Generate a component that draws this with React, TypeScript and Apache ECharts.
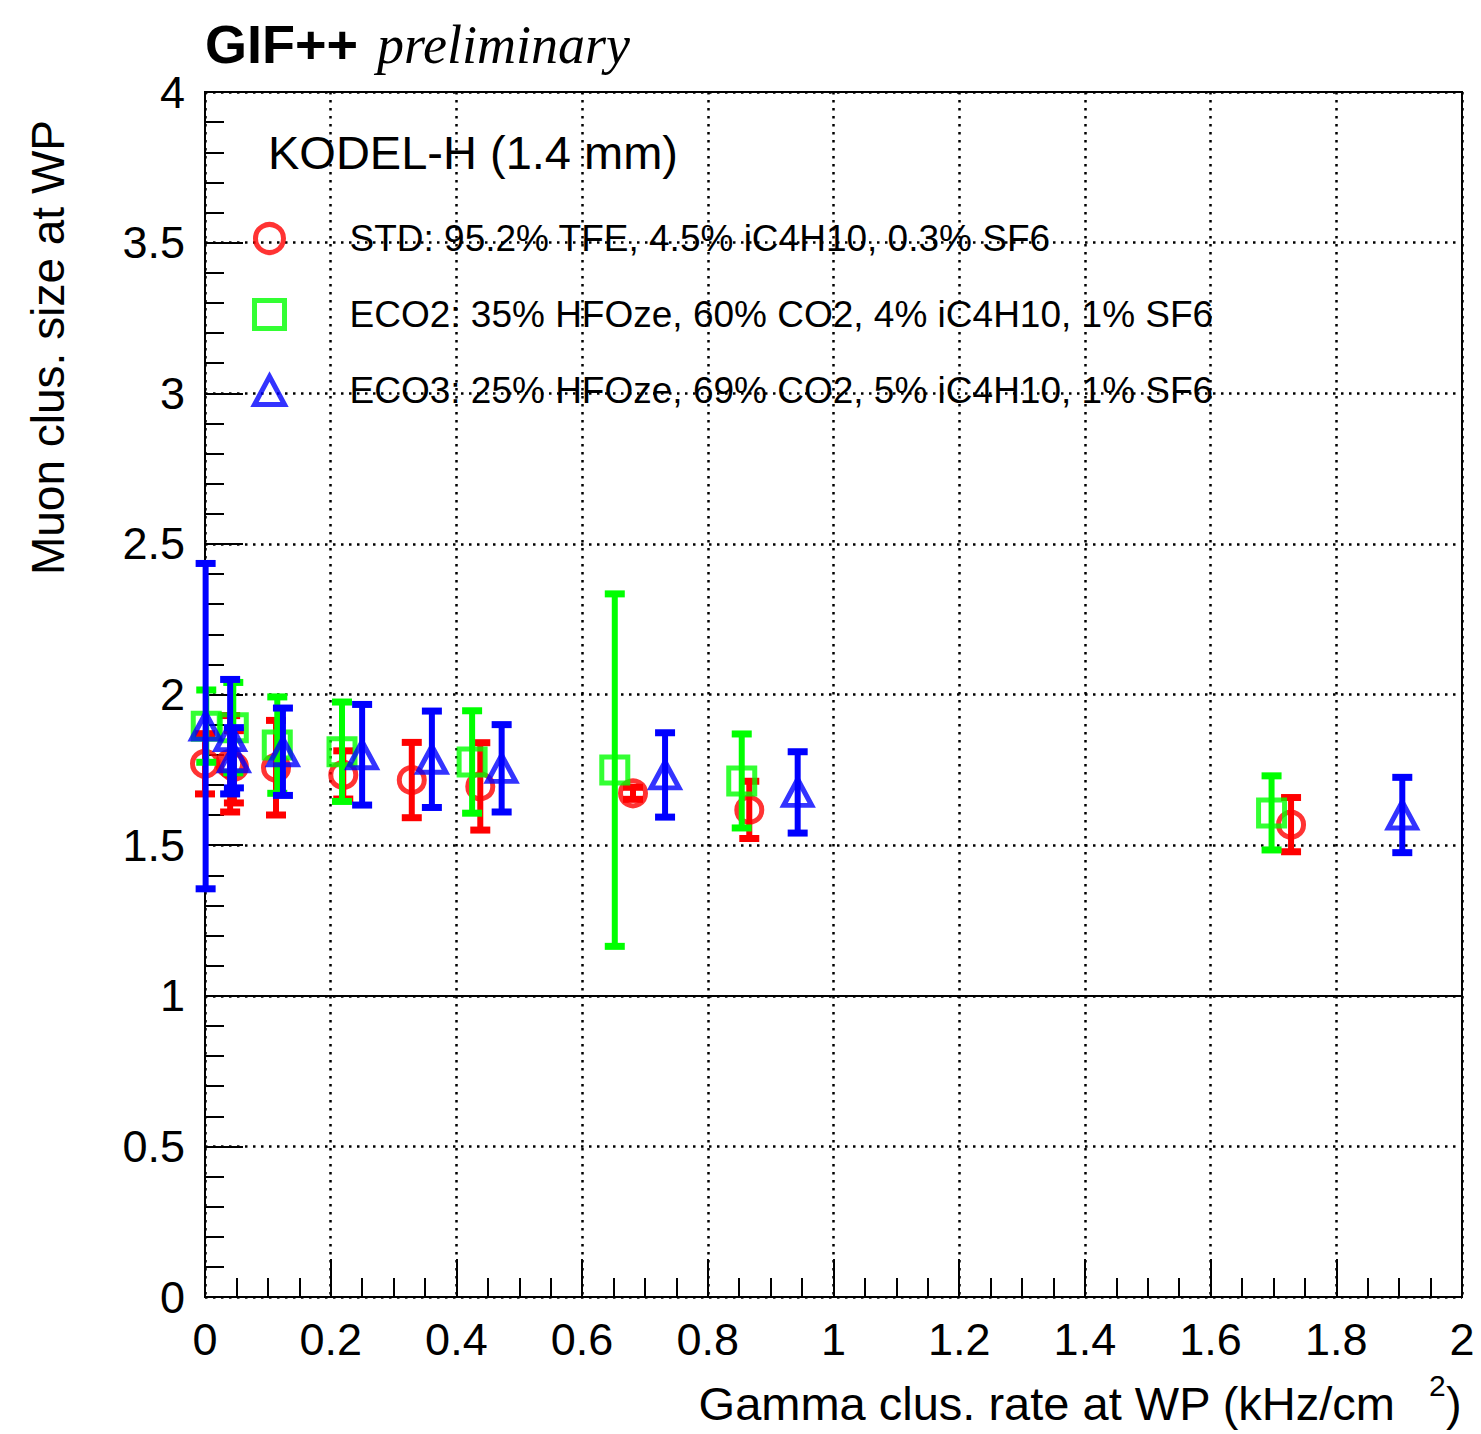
import React, { useEffect, useRef } from "react";
import * as echarts from "echarts";

const STD_LABEL = "STD: 95.2% TFE, 4.5% iC4H10, 0.3% SF6";
const ECO2_LABEL = "ECO2: 35% HFOze, 60% CO2, 4% iC4H10, 1% SF6";
const ECO3_LABEL = "ECO3: 25% HFOze, 69% CO2, 5% iC4H10, 1% SF6";

// STD (red circles)
const stdX = [0.0, 0.040, 0.046, 0.113, 0.220, 0.329, 0.438, 0.681, 0.866, 1.728];
const stdY = [1.77, 1.77, 1.76, 1.757, 1.733, 1.716, 1.695, 1.672, 1.617, 1.568];
const stdErr = [0.10, 0.16, 0.12, 0.157, 0.08, 0.125, 0.145, 0.02, 0.095, 0.09];

// ECO2 (green squares)
const eco2X = [0.002, 0.045, 0.115, 0.218, 0.425, 0.652, 0.854, 1.697];
const eco2Y = [1.895, 1.89, 1.832, 1.81, 1.776, 1.749, 1.713, 1.607];
const eco2Err = [0.12, 0.15, 0.16, 0.165, 0.17, 0.585, 0.156, 0.123];

// ECO3 (blue triangles)
const eco3X = [0.001, 0.040, 0.046, 0.124, 0.250, 0.361, 0.472, 0.732, 0.943, 1.905];
const eco3Y = [1.895, 1.86, 1.79, 1.81, 1.80, 1.785, 1.755, 1.733, 1.675, 1.60];
const eco3Err = [0.54, 0.19, 0.10, 0.145, 0.167, 0.16, 0.145, 0.14, 0.135, 0.125];

const FONT = "Liberation Sans";
const MARKER_BORDER = 5;

function errorSeries(id: string, xs: number[], ys: number[], errs: number[], color: string, z: number) {
  return {
    type: "custom",
    id,
    name: id,
    silent: true,
    z,
    data: xs.map((x, i) => [x, ys[i] - errs[i], ys[i] + errs[i]]),
    encode: { x: 0, y: [1, 2] },
    renderItem: (params: any, api: any) => {
      const x = api.value(0);
      const lo = api.value(1);
      const hi = api.value(2);
      const pLo = api.coord([x, lo]);
      const pHi = api.coord([x, hi]);
      const capW = 20;
      const capH = 7;
      const barW = 6;
      return {
        type: "group",
        children: [
          {
            type: "rect",
            shape: { x: pLo[0] - barW / 2, y: pHi[1], width: barW, height: pLo[1] - pHi[1] },
            style: { fill: color },
          },
          {
            type: "rect",
            shape: { x: pHi[0] - capW / 2, y: pHi[1] - capH / 2, width: capW, height: capH },
            style: { fill: color },
          },
          {
            type: "rect",
            shape: { x: pLo[0] - capW / 2, y: pLo[1] - capH / 2, width: capW, height: capH },
            style: { fill: color },
          },
        ],
      };
    },
  };
}

function markerSeries(name: string, xs: number[], ys: number[], symbol: string, size: any, color: string, z: number, extra: any = {}) {
  return {
    type: "scatter",
    name,
    z,
    clip: false,
    silent: true,
    symbol,
    symbolSize: size,
    emphasis: { disabled: true },
    itemStyle: { color: "rgba(0,0,0,0)", borderColor: color, borderWidth: MARKER_BORDER },
    data: xs.map((x, i) => [x, ys[i]]),
    ...extra,
  };
}

export default function App() {
  const ref = useRef<HTMLDivElement>(null);
  useEffect(() => {
    if (!ref.current) return;
    const chart = echarts.init(ref.current, undefined, { renderer: "svg" });
    const axisCommon = {
      type: "value",
      axisLine: { show: true, onZero: false, lineStyle: { color: "#000", width: 2 } },
      axisTick: { show: true, inside: true, length: 38, lineStyle: { color: "#000", width: 2 } },
      minorTick: { show: true, length: 19, lineStyle: { color: "#000", width: 2 } },
      splitLine: { show: true, lineStyle: { color: "#000", width: 2.5, type: [2.5, 5.5] } },
      minorSplitLine: { show: false },
      axisLabel: {
        color: "#000",
        fontFamily: FONT,
        fontSize: 45,
        formatter: (v: number) => String(parseFloat(v.toFixed(1))),
      },
    };
    chart.setOption({
      animation: false,
      backgroundColor: "#fff",
      textStyle: { fontFamily: FONT },
      grid: {
        left: 205,
        right: 19,
        top: 92,
        bottom: 137,
        show: true,
        borderColor: "#000",
        borderWidth: 2,
        backgroundColor: "rgba(0,0,0,0)",
      },
      xAxis: {
        ...axisCommon,
        min: 0,
        max: 2,
        interval: 0.2,
        minorTick: { ...axisCommon.minorTick, splitNumber: 4 },
        axisLabel: { ...axisCommon.axisLabel, margin: 20, showMinLabel: true, showMaxLabel: true },
      },
      yAxis: {
        ...axisCommon,
        min: 0,
        max: 4,
        interval: 0.5,
        minorTick: { ...axisCommon.minorTick, splitNumber: 5 },
        axisLabel: { ...axisCommon.axisLabel, margin: 20 },
      },
      legend: {
        orient: "vertical",
        left: 252,
        top: 220,
        padding: 0,
        itemWidth: 30,
        itemHeight: 28,
        itemGap: 39,
        selectedMode: false,
        symbolKeepAspect: true,
        itemStyle: { borderWidth: MARKER_BORDER },
        textStyle: { fontFamily: FONT, fontSize: 37, color: "#000", padding: [0, 0, 0, 60] },
        data: [STD_LABEL, ECO2_LABEL, ECO3_LABEL],
      },
      graphic: [
        {
          type: "text",
          x: 205,
          y: 44,
          style: { text: "GIF++", fontFamily: FONT, fontWeight: "bold", fontSize: 54, fill: "#000", align: "left", verticalAlign: "middle" },
        },
        {
          type: "text",
          x: 377,
          y: 45,
          style: { text: "preliminary", fontFamily: "Liberation Serif", fontStyle: "italic", fontSize: 54, fill: "#000", align: "left", verticalAlign: "middle" },
        },
        {
          type: "text",
          x: 268,
          y: 152,
          style: { text: "KODEL-H (1.4 mm)", fontFamily: FONT, fontSize: 47, fill: "#000", align: "left", verticalAlign: "middle" },
        },
        {
          type: "text",
          x: 1395,
          y: 1403,
          style: { text: "Gamma clus. rate at WP (kHz/cm", fontFamily: FONT, fontSize: 47, fill: "#000", align: "right", verticalAlign: "middle" },
        },
        {
          type: "text",
          x: 1429,
          y: 1385,
          style: { text: "2", fontFamily: FONT, fontSize: 30, fill: "#000", align: "left", verticalAlign: "middle" },
        },
        {
          type: "text",
          x: 1446,
          y: 1403,
          style: { text: ")", fontFamily: FONT, fontSize: 47, fill: "#000", align: "left", verticalAlign: "middle" },
        },
        {
          type: "text",
          x: 48,
          y: 120,
          rotation: Math.PI / 2,
          style: { text: "Muon clus. size at WP", fontFamily: FONT, fontSize: 46, fill: "#000", align: "right", verticalAlign: "middle" },
        },
      ],
      series: [
        errorSeries("std-err", stdX, stdY, stdErr, "#ff0000", 3),
        markerSeries(STD_LABEL, stdX, stdY, "circle", 25, "#ff0000", 3, {
          markLine: {
            silent: true,
            symbol: "none",
            label: { show: false },
            lineStyle: { color: "#000", type: "solid", width: 2 },
            data: [{ yAxis: 1 }],
          },
        }),
        errorSeries("eco2-err", eco2X, eco2Y, eco2Err, "#00ff00", 4),
        markerSeries(ECO2_LABEL, eco2X, eco2Y, "rect", 26, "#00ff00", 4),
        errorSeries("eco3-err", eco3X, eco3Y, eco3Err, "#0000ff", 5),
        markerSeries(ECO3_LABEL, eco3X, eco3Y, "triangle", [28, 26], "#0000ff", 5),
      ],
    });
    return () => chart.dispose();
  }, []);
  return <div ref={ref} style={{ position: "absolute", left: 0, top: 0, width: 1481, height: 1434 }} />;
}
